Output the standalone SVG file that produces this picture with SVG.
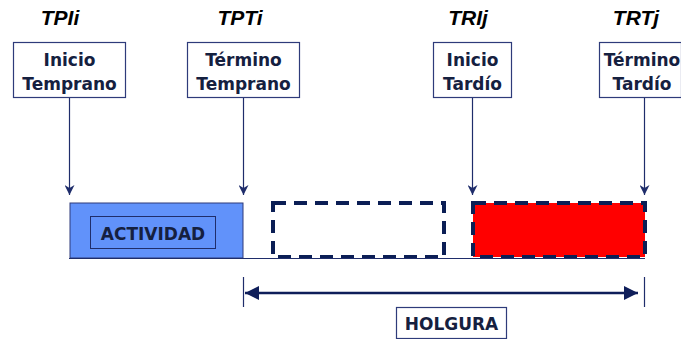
<svg xmlns="http://www.w3.org/2000/svg" width="681" height="339" viewBox="0 0 681 339">
<defs>
<style>
.lbl{font-family:"Liberation Sans",Arial,sans-serif;font-weight:bold;font-style:italic;font-size:21px;fill:#000;text-anchor:middle}
.box{fill:#fff;stroke:#2E3B7A;stroke-width:1.2}
.bt{font-family:"DejaVu Sans",Verdana,sans-serif;font-weight:bold;font-size:17px;fill:#15203F;text-anchor:middle}
.vl{stroke:#1F2D6B;stroke-width:1.2;fill:none}
.dash{fill:none;stroke:#0B1E55;stroke-width:4;stroke-dasharray:13 8}
</style>
<marker id="ah" viewBox="0 0 10 10" refX="10" refY="5" markerWidth="10" markerHeight="10" markerUnits="userSpaceOnUse" orient="auto">
<path d="M0,0 L10,5 L0,10 L3,5 Z" fill="#1F2D6B"/>
</marker>
<marker id="bh" viewBox="0 0 12 12" refX="12" refY="6" markerWidth="14" markerHeight="14" markerUnits="userSpaceOnUse" orient="auto-start-reverse">
<path d="M0,0 L12,6 L0,12 Z" fill="#0F1E5A"/>
</marker>
</defs>
<g id="label-tpii"><text class="lbl" x="60" y="25">TPIi</text></g>
<g id="label-tpti"><text class="lbl" x="240" y="25">TPTi</text></g>
<g id="label-trij"><text class="lbl" x="468" y="25">TRIj</text></g>
<g id="label-trtj"><text class="lbl" x="636" y="25">TRTj</text></g>
<g id="inicio-temprano"><rect class="box" x="13.5" y="42.5" width="112" height="55"/><text class="bt" x="69.5" y="66">Inicio</text><text class="bt" x="69.5" y="90">Temprano</text></g>
<g id="termino-temprano"><rect class="box" x="187.5" y="42.5" width="112" height="55"/><text class="bt" x="243.5" y="66">Término</text><text class="bt" x="243.5" y="90">Temprano</text></g>
<g id="inicio-tardio"><rect class="box" x="433.5" y="42.5" width="78" height="55"/><text class="bt" x="472.5" y="66">Inicio</text><text class="bt" x="472.5" y="90">Tardío</text></g>
<g id="termino-tardio"><rect class="box" x="599.5" y="42.5" width="82" height="55"/><text class="bt" x="642" y="66">Término</text><text class="bt" x="642" y="90">Tardío</text></g>
<g id="actividad"><rect x="70" y="203" width="173" height="55" fill="#6192FA" stroke="#2E3B7A" stroke-width="1"/><rect x="90.5" y="216.5" width="125" height="32" fill="none" stroke="#1F2D6B" stroke-width="1"/><text class="bt" x="153" y="240">ACTIVIDAD</text></g>
<g id="holgura-temprana"><rect class="dash" x="273" y="203" width="171" height="54"/></g>
<g id="holgura-tardia"><rect x="473" y="203" width="172" height="54" class="dash" style="fill:#FF0000"/></g>
<g id="holgura"><rect x="396.5" y="307.5" width="110" height="31" fill="#fff" stroke="#2E3B7A" stroke-width="1.2"/><text class="bt" x="451.5" y="330">HOLGURA</text></g>
<g id="connectors">
<line class="vl" x1="69.5" y1="98" x2="69.5" y2="195" marker-end="url(#ah)"/>
<line class="vl" x1="243.5" y1="98" x2="243.5" y2="195" marker-end="url(#ah)"/>
<line class="vl" x1="472.5" y1="98" x2="472.5" y2="195" marker-end="url(#ah)"/>
<line class="vl" x1="644.5" y1="98" x2="644.5" y2="195" marker-end="url(#ah)"/>
<line x1="69" y1="258.5" x2="645" y2="258.5" stroke="#1F2D6B" stroke-width="1.2"/>
<line class="vl" x1="243.5" y1="277" x2="243.5" y2="307"/>
<line class="vl" x1="644.5" y1="277" x2="644.5" y2="307"/>
<line x1="245" y1="293" x2="638" y2="293" stroke="#0F1E5A" stroke-width="2.5" marker-start="url(#bh)" marker-end="url(#bh)"/>
</g>
</svg>
